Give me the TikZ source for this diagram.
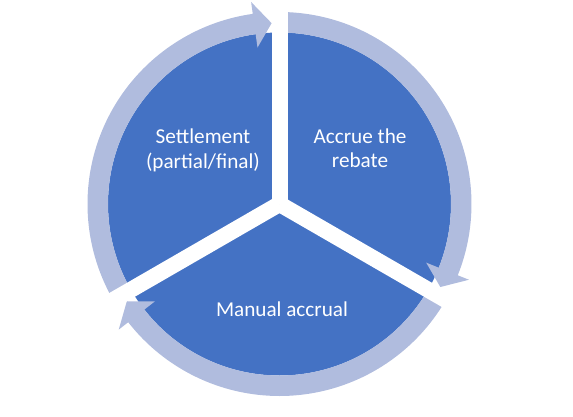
\documentclass[tikz,border=0pt]{standalone}
\usepackage{fontspec}
\setmainfont{Carlito}
\definecolor{pieblue}{RGB}{68,114,196}
\definecolor{ringblue}{RGB}{176,188,222}
\begin{document}
\begin{tikzpicture}[x=1pt,y=1pt,
  lbl/.style={text=white, font=\fontsize{21.2}{24}\selectfont, align=center, inner sep=0pt, anchor=base},
  ringarrow/.style={fill=ringblue},
  gapline/.style={draw=white, line width=16pt}]
\useasboundingbox (0,0) rectangle (573,416);
\begin{scope}[shift={(279.5,212)}]
  \coordinate (C) at (0,0);
  \fill[pieblue] (C) circle[radius=171.5pt];
  % arrow 1: top -> lower right
  \fill[ringarrow] (90:192pt) arc[start angle=90,end angle=-21.8,radius=192pt]
    -- (-21.8:204pt) -- (-27.3:181pt) -- (-21.8:158pt) -- (-21.8:171.5pt)
    arc[start angle=-21.8,end angle=90,radius=171.5pt] -- cycle;
  % arrow 2: lower right -> lower left
  \fill[ringarrow] (-30:192pt) arc[start angle=-30,end angle=-142,radius=192pt]
    -- (-142:204pt) -- (-147.5:181pt) -- (-142:158pt) -- (-142:171.5pt)
    arc[start angle=-142,end angle=-30,radius=171.5pt] -- cycle;
  % arrow 3: lower left -> top
  \fill[ringarrow] (210:192pt) arc[start angle=210,end angle=98,radius=192pt]
    -- (98:204pt) -- (92.5:181pt) -- (98:158pt) -- (98:171.5pt)
    arc[start angle=98,end angle=210,radius=171.5pt] -- cycle;
  % gaps
  \coordinate (G1) at (90:230pt);
  \coordinate (G2) at (210:230pt);
  \coordinate (G3) at (330:230pt);
  \draw[gapline] (C) -- (G1);
  \draw[gapline] (C) -- (G2);
  \draw[gapline] (C) -- (G3);
\end{scope}
\node[lbl] (settle) at (203,248) {Settlement\\(partial/final)};
\node[lbl] (accrue) at (360,248.7) {Accrue the\\rebate};
\node[lbl] (manual) at (282,100) {Manual accrual};
\end{tikzpicture}
\end{document}
